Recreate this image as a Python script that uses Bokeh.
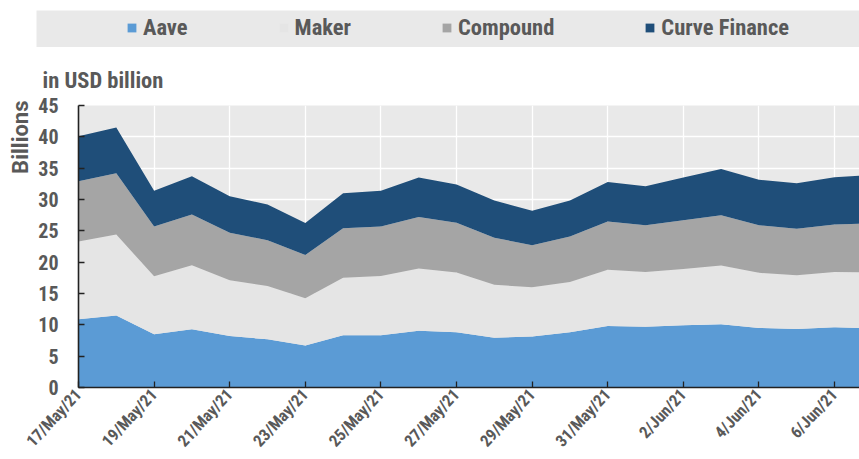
import numpy as np
from bokeh.plotting import figure
from bokeh.models import (ColumnDataSource, FixedTicker, Legend, LegendItem, Title, Range1d)
from bokeh.layouts import column
from bokeh.embed import file_html
from bokeh.resources import INLINE

# ---- data (values in USD billion), daily 17 May 2021 .. 7 Jun 2021 ----
day_index = list(range(22))
aave = [10.9, 11.5, 8.5, 9.3, 8.2, 7.7, 6.7, 8.35, 8.35, 9.05, 8.8,
        7.95, 8.15, 8.8, 9.8, 9.7, 9.95, 10.1, 9.5, 9.35, 9.6, 9.45]
maker = [12.4, 12.9, 9.25, 10.2, 8.9, 8.5, 7.55, 9.15, 9.45, 9.95, 9.55,
         8.45, 7.85, 8.05, 9.0, 8.75, 8.95, 9.35, 8.8, 8.55, 8.85, 8.9]
compound = [9.6, 9.8, 7.95, 8.1, 7.6, 7.3, 6.9, 7.9, 7.9, 8.2, 7.95,
            7.5, 6.7, 7.25, 7.7, 7.45, 7.8, 8.05, 7.6, 7.45, 7.55, 7.85]
curve = [7.2, 7.3, 5.7, 6.1, 5.8, 5.7, 5.1, 5.6, 5.7, 6.3, 6.1,
         5.95, 5.5, 5.75, 6.3, 6.2, 6.8, 7.35, 7.25, 7.25, 7.55, 7.7]

series_names = ["Aave", "Maker", "Compound", "Curve Finance"]
series_colors = ["#5B9BD5", "#E5E5E5", "#A5A5A5", "#1F4E79"]

tick_positions = [0, 2, 4, 6, 8, 10, 12, 14, 16, 18, 20]
tick_labels = ["17/May/21", "19/May/21", "21/May/21", "23/May/21", "25/May/21",
               "27/May/21", "29/May/21", "31/May/21", "2/Jun/21", "4/Jun/21",
               "6/Jun/21"]
y_ticks = [0, 5, 10, 15, 20, 25, 30, 35, 40, 45]

FONT = "'Roboto Condensed', 'Liberation Sans Narrow', Roboto"
TXT = "#595959"

src = ColumnDataSource(dict(x=day_index, Aave=aave, Maker=maker,
                            Compound=compound, **{"Curve Finance": curve}))

# ---- main chart ----
p = figure(width=859, height=412, output_backend="svg", toolbar_location=None,
           x_range=Range1d(0, 20.66), y_range=Range1d(0, 45),
           min_border_left=78, min_border_right=0, min_border_top=58,
           min_border_bottom=72)
p.outline_line_color = None
p.background_fill_color = "#E9E9E9"
renderers = p.varea_stack(stackers=series_names, x="x", color=series_colors,
                          source=src)

p.xaxis.ticker = FixedTicker(ticks=tick_positions)
p.xaxis.major_label_overrides = {t: l for t, l in zip(tick_positions, tick_labels)}
p.yaxis.ticker = FixedTicker(ticks=y_ticks)
p.xgrid.ticker = FixedTicker(ticks=tick_positions)
p.ygrid.ticker = FixedTicker(ticks=y_ticks)
for g in (p.xgrid, p.ygrid):
    g.grid_line_color = "white"
    g.grid_line_width = 1.3

for ax in (p.xaxis, p.yaxis):
    ax.axis_line_color = "#222222"
    ax.axis_line_width = 1.6
    ax.major_tick_line_color = "#222222"
    ax.major_tick_line_width = 1.3
    ax.major_tick_in = 6
    ax.major_tick_out = 0
    ax.minor_tick_line_color = None
    ax.major_label_text_font = FONT
    ax.major_label_text_font_style = "bold"
    ax.major_label_text_color = TXT

p.yaxis.major_label_text_font_size = "20px"
p.yaxis.major_label_standoff = 20
p.xaxis.major_label_text_font_size = "16.5px"
p.xaxis.major_label_orientation = 0.82
p.xaxis.major_label_standoff = 4

p.add_layout(Title(text="in USD billion", align="left", offset=-36, standoff=25,
                   text_font=FONT, text_font_style="bold", text_font_size="22.5px",
                   text_color=TXT), "above")
p.add_layout(Title(text="Billions", align="right", offset=-5, standoff=6,
                   text_font="Roboto", text_font_style="bold", text_font_size="22px",
                   text_color=TXT), "left")

# ---- legend band ----
lg = figure(width=859, height=47, output_backend="svg", toolbar_location=None,
            x_range=Range1d(0, 1), y_range=Range1d(1000, 1001),
            x_axis_location=None, y_axis_location=None,
            min_border_left=36, min_border_right=0, min_border_top=10,
            min_border_bottom=0)
lg.frame_align = False
lg.outline_line_color = None
lg.background_fill_color = "#E9E9E9"
lg.grid.visible = False
lrs = lg.varea_stack(stackers=series_names, x="x", color=series_colors, source=src)
legend = Legend(items=[LegendItem(label=n, renderers=[r]) for n, r in zip(series_names, lrs)],
                orientation="horizontal", location=(90, 7), padding=0, margin=0,
                spacing=90, glyph_width=11, glyph_height=11, label_standoff=6,
                label_height=22,
                label_text_font=FONT, label_text_font_style="bold",
                label_text_font_size="22.5px", label_text_color=TXT,
                background_fill_alpha=0, border_line_color=None)
lg.add_layout(legend, "center")

layout = column(lg, p, spacing=0)
open("out.html", "w").write(file_html(layout, INLINE))
